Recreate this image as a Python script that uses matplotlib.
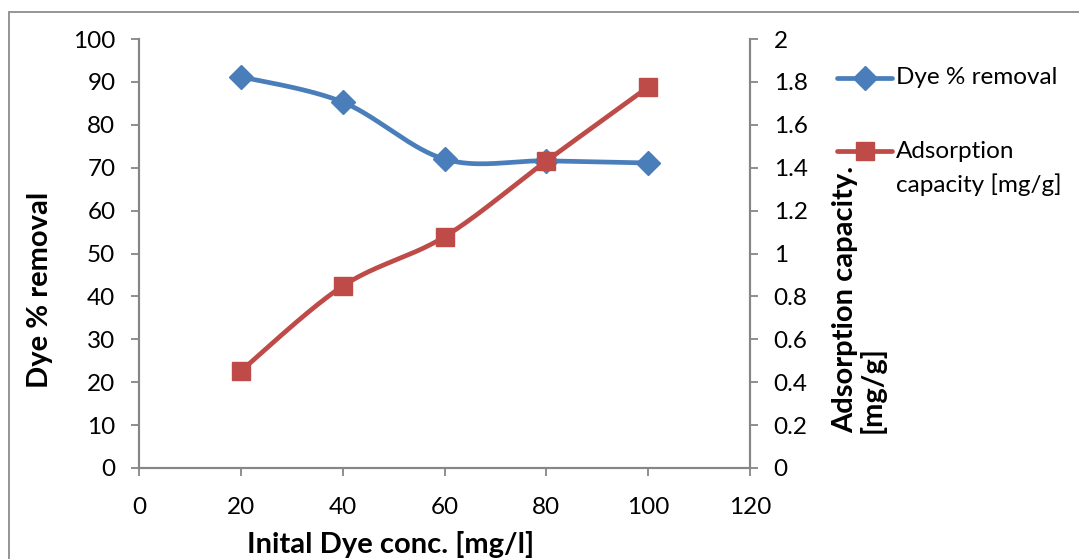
import numpy as np
import matplotlib
matplotlib.use("Agg")
import matplotlib.pyplot as plt
from matplotlib.lines import Line2D
from matplotlib.patches import Rectangle

plt.rcParams['font.family'] = ['Lato', 'DejaVu Sans']

# data
conc = [20, 40, 60, 80, 100]
removal = [91.2, 85.3, 72.0, 71.6, 71.1]
capacity = [0.452, 0.848, 1.078, 1.431, 1.776]

x_ticks = [0, 20, 40, 60, 80, 100, 120]
left_ticks = [0, 10, 20, 30, 40, 50, 60, 70, 80, 90, 100]
right_ticks = [0, 0.2, 0.4, 0.6, 0.8, 1, 1.2, 1.4, 1.6, 1.8, 2]

BLUE = '#4A7EBB'
RED = '#BE4B48'
SPINE = '#868686'
W, H = 1079, 559


def smooth(xs, ys, n=40):
    """Excel style smoothed line (bezier through points)"""
    p = np.column_stack([xs, ys]).astype(float)
    p = np.vstack([p[0], p, p[-1]])
    out = []
    t = np.linspace(0, 1, n)[:, None]
    for i in range(1, len(p) - 2):
        p0, p1, p2, p3 = p[i - 1], p[i], p[i + 1], p[i + 2]
        c1 = p1 + (p2 - p0) / 6
        c2 = p2 - (p3 - p1) / 6
        seg = ((1 - t) ** 3) * p1 + 3 * ((1 - t) ** 2) * t * c1 + 3 * (1 - t) * t ** 2 * c2 + t ** 3 * p2
        out.append(seg)
    out = np.vstack(out)
    return out[:, 0], out[:, 1]


fig = plt.figure(figsize=(W / 100, H / 100), dpi=100)
ax = fig.add_axes([139 / W, 1 - 468 / H, (750 - 139) / W, (468 - 39) / H])
ax2 = ax.twinx()

# frame around the chart
fig.add_artist(Rectangle((9 / W, -0.2), 1.2, 1.2 - 12 / H, transform=fig.transFigure,
                         fill=False, edgecolor='#8C8C8C', lw=1.3))

sx, sy = smooth(np.array(conc) / 120, np.array(removal) / 100)
ax.plot(sx * 120, sy * 100, color=BLUE, lw=3.4, solid_capstyle='round', zorder=3)
ax.plot(conc, removal, ls='none', marker='D', ms=12, color=BLUE, zorder=4)

sx, sy = smooth(np.array(conc) / 120, np.array(capacity) / 2)
ax2.plot(sx * 120, sy * 2, color=RED, lw=3.4, solid_capstyle='round', zorder=3)
ax2.plot(conc, capacity, ls='none', marker='s', ms=13, color=RED, zorder=4)

ax.set_xlim(0, 120)
ax.set_ylim(0, 100)
ax2.set_ylim(0, 2)
ax.set_xticks(x_ticks)
ax.set_yticks(left_ticks)
ax2.set_yticks(right_ticks)
ax2.set_yticklabels([f'{v:g}' for v in right_ticks])

for a in (ax, ax2):
    a.spines['top'].set_visible(False)
    for s in ('left', 'right', 'bottom'):
        a.spines[s].set_color(SPINE)
        a.spines[s].set_linewidth(1.5)
    a.tick_params(colors=SPINE, labelcolor='black', labelsize=17.5, width=1.3, length=6)
ax.tick_params(axis='x', pad=15)
ax.tick_params(axis='y', pad=11)
ax2.tick_params(axis='y', pad=11)

# axis titles
fig.text(40 / W, 1 - 290 / H, 'Dye % removal', rotation=90, ha='center', va='center',
         fontsize=21, fontweight='bold')
fig.text(391 / W, 1 - 531 / H, 'Inital Dye conc. [mg/l]', ha='center', va='top',
         fontsize=21, fontweight='bold')
fig.text(859 / W, 1 - 433 / H, 'Adsorption capacity.\n[mg/g]', rotation=90, ha='center',
         va='bottom', multialignment='left', fontsize=21, fontweight='bold', linespacing=1.0)

# legend
fig.add_artist(Line2D([837 / W, 892 / W], [1 - 78 / H] * 2, transform=fig.transFigure,
                      color=BLUE, lw=3.4, solid_capstyle='round'))
fig.add_artist(Line2D([864.5 / W], [1 - 78 / H], transform=fig.transFigure,
                      color=BLUE, marker='D', ms=12, ls='none'))
fig.text(896 / W, 1 - 78 / H, 'Dye % removal', ha='left', va='center', fontsize=17.5)

fig.add_artist(Line2D([837 / W, 892 / W], [1 - 151 / H] * 2, transform=fig.transFigure,
                      color=RED, lw=3.4, solid_capstyle='round'))
fig.add_artist(Line2D([864.5 / W], [1 - 151 / H], transform=fig.transFigure,
                      color=RED, marker='s', ms=13, ls='none'))
fig.text(896 / W, 1 - 151 / H, 'Adsorption', ha='left', va='center', fontsize=17.5)
fig.text(896 / W, 1 - 185 / H, 'capacity [mg/g]', ha='left', va='center', fontsize=17.5)

fig.savefig('out.png', dpi=100)
